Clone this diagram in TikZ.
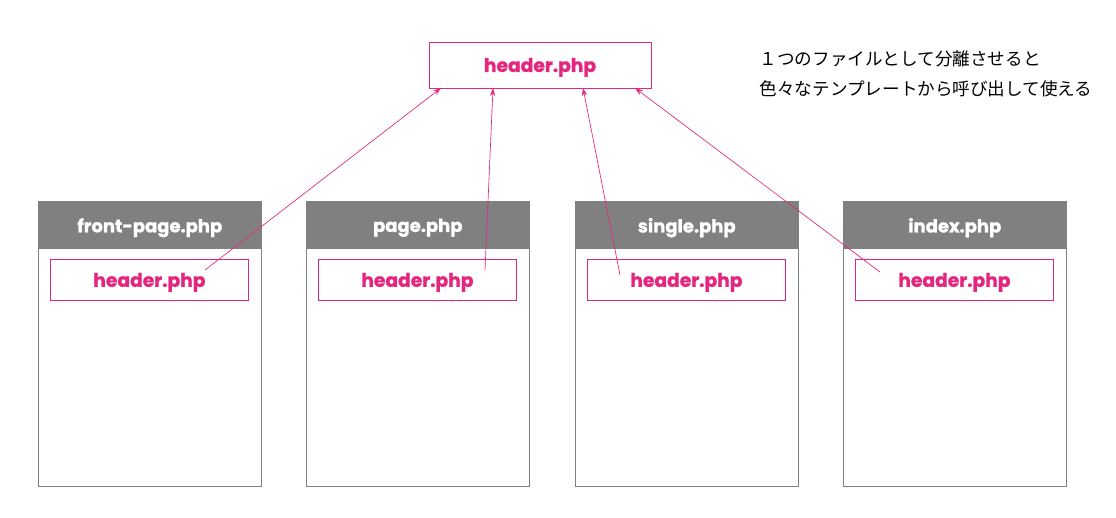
\documentclass[tikz,border=0pt]{standalone}
\usetikzlibrary{arrows.meta}
\usepackage{fontspec}
\setmainfont{Poppins}[FakeBold=1.2]
\newfontfamily\cjk{Noto Sans CJK JP}
\definecolor{pk}{HTML}{E5267E}
\definecolor{gr}{HTML}{808080}
\begin{document}
\begin{tikzpicture}[x=0.75pt,y=-0.75pt,
  pbox/.style={draw=pk,fill=white,text=pk,font=\bfseries\fontsize{14}{16}\selectfont,inner sep=0pt,line width=0.6pt,text depth=-2pt},
  outer/.style={draw=gr,line width=0.6pt},
  bar/.style={fill=gr,text=white,font=\bfseries\fontsize{13.5}{16}\selectfont,inner sep=0pt,text depth=-2pt},
  arr/.style={draw=pk,line width=0.5pt,-{Stealth[length=6pt,width=4pt]}}]
\useasboundingbox (0,0) rectangle (1116,517);
\node[pbox,minimum width=166.5pt,minimum height=34.5pt] (top) at (540,65) {header.php};
\foreach \i/\x/\t in {1/38/front-page.php,2/306/page.php,3/575/single.php,4/843/index.php}{
  \draw[outer] (\x,201) rectangle (\x+223,486);
  \node[bar,minimum width=167.25pt,minimum height=36pt,anchor=north west] (bar\i) at (\x,201) {\t};
  \node[pbox,minimum width=148.5pt,minimum height=30.75pt,anchor=north west] (in\i) at (\x+12,259) {header.php};
}
\coordinate (s1) at (205,270); \coordinate (e1) at (441,88);
\coordinate (s2) at (485,270); \coordinate (e2) at (493,88);
\coordinate (s3) at (620,275); \coordinate (e3) at (583,88);
\coordinate (s4) at (880,272); \coordinate (e4) at (635,88);
\foreach \i in {1,...,4}{\draw[arr] (s\i) -- (e\i);}
\node[anchor=west,font=\cjk\fontsize{13.2}{15}\selectfont] (j1) at (755,59) {１つのファイルとして分離させると};
\node[anchor=west,font=\cjk\fontsize{13.2}{15}\selectfont] (j2) at (755,89) {色々なテンプレートから呼び出して使える};
\end{tikzpicture}
\end{document}
